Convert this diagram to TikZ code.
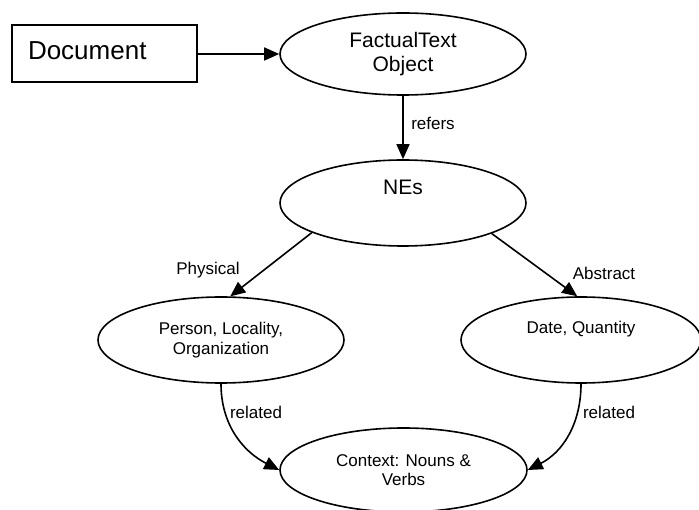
\documentclass[tikz,border=0pt]{standalone}
\usepackage{fontspec}
\setmainfont{Liberation Sans}
\usetikzlibrary{shapes.geometric,arrows.meta}
\begin{document}
\begin{tikzpicture}[x=1pt,y=-1pt,
  ell/.style={draw,ellipse,line width=1.6pt,inner sep=0pt,minimum width=246pt,minimum height=84pt,align=center},
  big/.style={font=\fontsize{21}{24}\selectfont},
  mid/.style={font=\fontsize{17}{19.5}\selectfont},
  lab/.style={font=\fontsize{17}{19.5}\selectfont,inner sep=0pt},
  conn/.style={line width=1.6pt,-{Triangle[length=15pt,width=13pt]}}]
\useasboundingbox (0,0) rectangle (699,510);
\node[draw,line width=2pt,minimum width=185pt,minimum height=57pt,inner xsep=16pt,text width=153pt,text height=18.7pt,text depth=8pt,align=left,font=\fontsize{26}{30}\selectfont] (doc) at (104.5,54) {Document};
\node[ell,big,minimum height=82pt] (fact) at (403,54) {FactualText\\Object};
\node[ell,big,minimum height=86pt] (nes) at (403,203) {NEs\\\strut};
\node[ell,mid,minimum height=86pt] (pers) at (221,340) {Person, Locality,\\Organization};
\node[ell,mid,minimum width=240pt,minimum height=86pt] (date) at (581,340) {Date, Quantity\\\strut};
\node[ell,mid,minimum width=247pt,minimum height=84pt] (ctx) at (403.5,470) {Context: Nouns \&\\Verbs};
\draw[conn] (doc.east) -- (fact.west);
\draw[conn] (fact.south) -- (nes.north);
\draw[conn] (nes.198.8) -- (pers.78);
\draw[conn] (nes.341) -- (date.95);
\draw[conn] (pers.south) to[out=-90,in=153] (ctx.west);
\draw[conn] (date.south) to[out=-90,in=27] (ctx.east);
\node[lab] (refers) at (433,123) {refers};
\node[lab] (phys) at (208,270) {Physical};
\node[lab] (abs) at (604,273) {Abstract};
\node[lab] (rel1) at (256,412) {related};
\node[lab] (rel2) at (609,412) {related};
\end{tikzpicture}
\end{document}
